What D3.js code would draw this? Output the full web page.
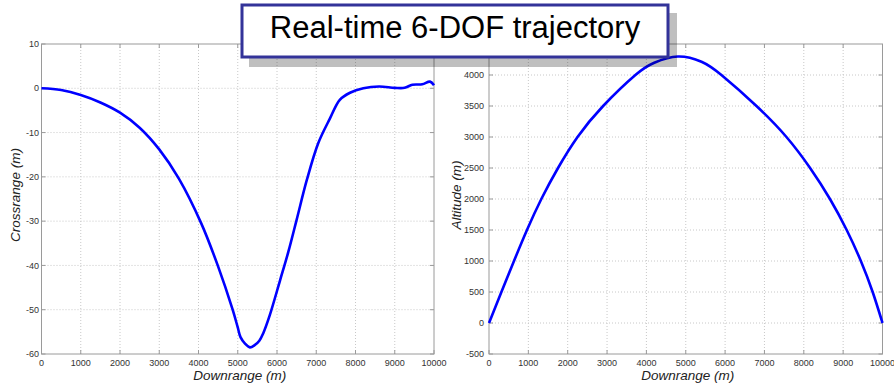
<!DOCTYPE html>
<html>
<head>
<meta charset="utf-8">
<script src="https://cdn.jsdelivr.net/npm/d3@7"></script>
<style>
  html, body { margin: 0; padding: 0; background: #fff; }
  svg { display: block; }
</style>
</head>
<body>
<svg id="chart" width="894" height="385"></svg>
<script>
// Crossrange vs downrange (left panel)
const crossDown = [0, 500, 1000, 1500, 2000, 2500, 3000, 3500, 4070, 4490, 4870, 5000, 5070, 5180, 5310, 5430, 5550, 5650, 5810, 6080, 6290, 6500, 6760, 7050, 7350, 7600, 7860, 8200, 8600, 9000, 9250, 9450, 9700, 9900, 10000];
const crossRange = [0, -0.4, -1.5, -3.2, -5.5, -8.9, -13.8, -20.4, -30.5, -40, -50, -54, -56.2, -57.6, -58.5, -58.0, -57.0, -55.3, -51.4, -43.3, -36.9, -29.7, -20.7, -12.4, -6.8, -2.6, -1.0, 0, 0.4, 0.1, 0.1, 0.8, 0.9, 1.5, 0.7];

// Altitude vs downrange (right panel)
const altDown = [0, 315, 635, 965, 1330, 1754, 2250, 2900, 3720, 4200, 4800, 5400, 5907, 6797, 7559, 8160, 8665, 9090, 9450, 9750, 10000];
const altitude = [0, 500, 1000, 1500, 2000, 2500, 3000, 3500, 4000, 4198, 4298, 4214, 4000, 3500, 3000, 2500, 2000, 1500, 1000, 500, 0];

// Tick values
const xTicks = [0, 1000, 2000, 3000, 4000, 5000, 6000, 7000, 8000, 9000, 10000];
const crossTicks = [10, 0, -10, -20, -30, -40, -50, -60];
const altTicks = [-500, 0, 500, 1000, 1500, 2000, 2500, 3000, 3500, 4000];

const titleText = "Real-time 6-DOF trajectory";

const svg = d3.select("#chart");
const FONT = "'Liberation Sans', Arial, sans-serif";

function panel(cfg) {
  const x = d3.scaleLinear().domain([0, 10000]).range([cfg.left, cfg.right]);
  const y = d3.scaleLinear().domain(cfg.yDomain).range([cfg.bottom, cfg.top]);
  const g = svg.append("g");

  // dotted grid
  g.append("g").selectAll("line").data(xTicks.slice(1, -1)).join("line")
    .attr("x1", d => x(d)).attr("x2", d => x(d))
    .attr("y1", cfg.top).attr("y2", cfg.bottom)
    .attr("stroke", "#c8c8c8").attr("stroke-width", 1)
    .attr("stroke-dasharray", "1,2");
  g.append("g").selectAll("line").data(cfg.yTicks.filter(d => d !== cfg.yDomain[0] && d !== cfg.yDomain[1])).join("line")
    .attr("x1", cfg.left).attr("x2", cfg.right)
    .attr("y1", d => y(d)).attr("y2", d => y(d))
    .attr("stroke", "#c8c8c8").attr("stroke-width", 1)
    .attr("stroke-dasharray", "1,2");

  // axes box
  g.append("rect")
    .attr("x", cfg.left).attr("y", cfg.top)
    .attr("width", cfg.right - cfg.left).attr("height", cfg.bottom - cfg.top)
    .attr("fill", "none").attr("stroke", "#9a9a9a").attr("stroke-width", 1);

  // inward ticks on all four sides
  const tk = 4;
  const tg = g.append("g").attr("stroke", "#9a9a9a").attr("stroke-width", 1);
  xTicks.forEach(d => {
    tg.append("line").attr("x1", x(d)).attr("x2", x(d)).attr("y1", cfg.bottom).attr("y2", cfg.bottom - tk);
    tg.append("line").attr("x1", x(d)).attr("x2", x(d)).attr("y1", cfg.top).attr("y2", cfg.top + tk);
  });
  cfg.yTicks.forEach(d => {
    tg.append("line").attr("x1", cfg.left).attr("x2", cfg.left + tk).attr("y1", y(d)).attr("y2", y(d));
    tg.append("line").attr("x1", cfg.right).attr("x2", cfg.right - tk).attr("y1", y(d)).attr("y2", y(d));
  });

  // tick labels
  g.append("g").selectAll("text").data(xTicks).join("text")
    .attr("x", d => x(d)).attr("y", cfg.bottom + 11.5)
    .attr("text-anchor", "middle")
    .attr("font-family", FONT).attr("font-size", 9).attr("fill", "#333")
    .text(d => d);
  g.append("g").selectAll("text").data(cfg.yTicks).join("text")
    .attr("x", cfg.left - cfg.yLabelGap).attr("y", d => y(d) + 3.2)
    .attr("text-anchor", "end")
    .attr("font-family", FONT).attr("font-size", 9).attr("fill", "#333")
    .text(d => d);

  // axis titles
  g.append("text")
    .attr("x", (cfg.left + cfg.right) / 2 + 2).attr("y", 380)
    .attr("text-anchor", "middle")
    .attr("font-family", FONT).attr("font-size", 13.5).attr("font-style", "italic").attr("fill", "#222")
    .text("Downrange (m)");
  g.append("text")
    .attr("transform", `translate(${cfg.yTitleX},195) rotate(-90)`)
    .attr("text-anchor", "middle")
    .attr("font-family", FONT).attr("font-size", 13.5).attr("font-style", "italic").attr("fill", "#222")
    .text(cfg.yTitle);

  // trajectory line
  const line = d3.line().x(d => x(d[0])).y(d => y(d[1])).curve(cfg.curve);
  g.append("path")
    .datum(d3.zip(cfg.xs, cfg.ys))
    .attr("d", line)
    .attr("fill", "none").attr("stroke", "#0000ff")
    .attr("stroke-width", 2.6).attr("stroke-linejoin", "round");
}

panel({
  left: 41.5, right: 434, top: 44, bottom: 354,
  yDomain: [-60, 10], yTicks: crossTicks, yLabelGap: 2.5,
  yTitle: "Crossrange (m)", yTitleX: 19.5,
  xs: crossDown, ys: crossRange, curve: d3.curveCatmullRom.alpha(0.5)
});

panel({
  left: 489, right: 882.5, top: 44, bottom: 354,
  yDomain: [-500, 4500], yTicks: altTicks, yLabelGap: 5,
  yTitle: "Altitude (m)", yTitleX: 460.5,
  xs: altDown, ys: altitude, curve: d3.curveNatural
});

// title callout with drop shadow
const box = { x: 242, y: 5, w: 426, h: 52 };
svg.append("rect")
  .attr("x", box.x + 7).attr("y", box.y + 8)
  .attr("width", box.w + 2).attr("height", box.h + 2)
  .attr("fill", "#000").attr("opacity", 0.25);
svg.append("rect")
  .attr("x", box.x).attr("y", box.y)
  .attr("width", box.w).attr("height", box.h)
  .attr("fill", "#fff").attr("stroke", "#333399").attr("stroke-width", 3);
svg.append("text")
  .attr("x", box.x + box.w / 2).attr("y", 37.5)
  .attr("text-anchor", "middle")
  .attr("font-family", FONT).attr("font-size", 31).attr("fill", "#000")
  .text(titleText);
</script>
</body>
</html>
